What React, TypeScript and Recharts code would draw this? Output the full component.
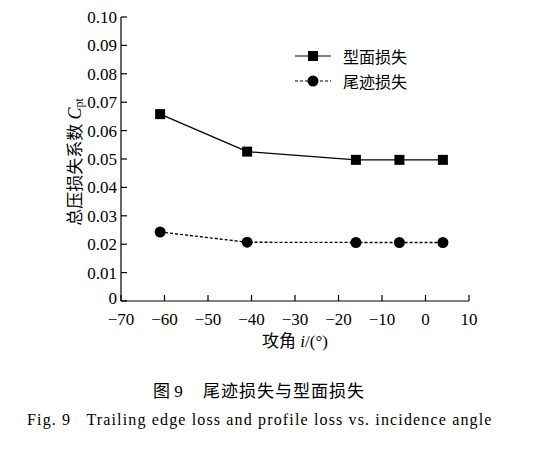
import { LineChart, Line, XAxis, YAxis, Label } from "recharts";

const angles = [-61, -41, -16, -6, 4];
const profileLoss = [0.0658, 0.0526, 0.0497, 0.0497, 0.0497];
const wakeLoss = [0.0243, 0.0207, 0.0206, 0.0206, 0.0206];
const xTicks = [-70, -60, -50, -40, -30, -20, -10, 0, 10];
const yTicks = [0, 0.01, 0.02, 0.03, 0.04, 0.05, 0.06, 0.07, 0.08, 0.09, 0.1];

const data = angles.map((a, i) => ({ angle: a, profile: profileLoss[i], wake: wakeLoss[i] }));

const FONT = '"Times New Roman", "Liberation Serif", serif';
const CJK = '"Times New Roman", "Liberation Serif", "Noto Sans CJK SC", serif';
const Y_MARGIN = 4;
const X_MARGIN = 9;
const TICK_LEN = 6;

const fmtY = (v: number) => (v === 0 ? "0" : v.toFixed(2));
const fmtX = (v: number) => (v < 0 ? "\u2212" + Math.abs(v) : String(v));

const YTick = (props: any) => {
  const { x, y, payload } = props;
  const ax = x + Y_MARGIN;
  return (
    <g>
      <line x1={ax} y1={y} x2={ax + TICK_LEN} y2={y} stroke="#000" strokeWidth={1.2} />
      <text
        x={x}
        y={y}
        dy={payload.value === 0 ? 3 : 6}
        textAnchor="end"
        style={{ fontFamily: FONT, fontSize: 17 }}
        fill="#000"
      >
        {fmtY(payload.value)}
      </text>
    </g>
  );
};

const XTick = (props: any) => {
  const { x, y, payload } = props;
  const ay = y - X_MARGIN;
  return (
    <g>
      <line x1={x} y1={ay} x2={x} y2={ay - TICK_LEN} stroke="#000" strokeWidth={1.2} />
      <text x={x} y={y} dy={15} textAnchor="middle" style={{ fontFamily: FONT, fontSize: 17 }} fill="#000">
        {fmtX(payload.value)}
      </text>
    </g>
  );
};

const SquareDot = (props: any) => {
  const { cx, cy, index } = props;
  return <rect key={`s-${index}`} x={cx - 5} y={cy - 5} width={10} height={10} fill="#000" />;
};

const CircleDot = (props: any) => {
  const { cx, cy, index } = props;
  return <circle key={`c-${index}`} cx={cx} cy={cy} r={5.5} fill="#000" />;
};

const legendItems = [
  { name: "型面损失", dash: undefined as string | undefined, marker: "square" },
  { name: "尾迹损失", dash: "3 2", marker: "circle" },
];

const LegendBox = () => (
  <div style={{ position: "absolute", left: 293, top: 43 }}>
    {legendItems.map((it) => (
      <div key={it.name} style={{ display: "flex", alignItems: "center", height: 25 }}>
        <svg width={40} height={14}>
          <line x1={2} y1={7} x2={38} y2={7} stroke="#000" strokeWidth={1.2} strokeDasharray={it.dash} />
          {it.marker === "square" ? (
            <rect x={15} y={2} width={10} height={10} fill="#000" />
          ) : (
            <circle cx={20} cy={7} r={5.5} fill="#000" />
          )}
        </svg>
        <span style={{ marginLeft: 10, fontFamily: CJK, fontSize: 16, color: "#000" }}>{it.name}</span>
      </div>
    ))}
  </div>
);

const YLabel = (props: any) => {
  const vb = props.viewBox;
  const cx = 75;
  const cy = vb.y + vb.height / 2 + 3;
  return (
    <text
      x={cx}
      y={cy}
      textAnchor="middle"
      transform={`rotate(-90, ${cx}, ${cy})`}
      dominantBaseline="central"
      style={{ fontFamily: CJK, fontSize: 17 }}
      fill="#000"
    >
      总压损失系数{" "}
      <tspan fontStyle="italic" fontSize={18}>C</tspan>
      <tspan fontSize={12} dy={4}>pt</tspan>
    </text>
  );
};

const XLabel = (props: any) => {
  const vb = props.viewBox;
  const cx = vb.x + vb.width / 2;
  return (
    <text x={cx} y={347} textAnchor="middle" style={{ fontFamily: CJK, fontSize: 17 }} fill="#000">
      攻角{" "}
      <tspan fontStyle="italic">i</tspan>
      <tspan>/(°)</tspan>
    </text>
  );
};

export default function App() {
  return (
    <div style={{ position: "absolute", left: 0, top: 0, width: 540, height: 449, background: "#fff" }}>
      <LineChart width={540} height={360} data={data} margin={{ top: 17, right: 71, bottom: 0, left: 0 }}>
        <XAxis
          dataKey="angle"
          type="number"
          domain={[-70, 10]}
          ticks={xTicks}
          interval={0}
          height={59}
          tickSize={0}
          tickMargin={X_MARGIN}
          tick={<XTick />}
          axisLine={{ stroke: "#000", strokeWidth: 1.2 }}
          tickLine={false}
        >
          <Label content={<XLabel />} />
        </XAxis>
        <YAxis
          type="number"
          domain={[0, 0.1]}
          ticks={yTicks}
          interval={0}
          width={121}
          tickSize={0}
          tickMargin={Y_MARGIN}
          tick={<YTick />}
          axisLine={{ stroke: "#000", strokeWidth: 1.2 }}
          tickLine={false}
        >
          <Label content={<YLabel />} />
        </YAxis>
        <Line
          dataKey="profile"
          name="型面损失"
          stroke="#000"
          strokeWidth={1.3}
          dot={<SquareDot />}
          isAnimationActive={false}
        />
        <Line
          dataKey="wake"
          name="尾迹损失"
          stroke="#000"
          strokeWidth={1.3}
          strokeDasharray="3 2"
          dot={<CircleDot />}
          isAnimationActive={false}
        />
      </LineChart>
      <LegendBox />
      <div style={{ position: "absolute", left: 153, top: 377, fontFamily: CJK, fontSize: 17, color: "#000", whiteSpace: "pre" }}>
        图 9
      </div>
      <div style={{ position: "absolute", left: 203, top: 377, fontFamily: CJK, fontSize: 17, color: "#000", letterSpacing: 1, whiteSpace: "pre" }}>
        尾迹损失与型面损失
      </div>
      <div style={{ position: "absolute", left: 27, top: 411, fontFamily: FONT, fontSize: 16, color: "#000", letterSpacing: 1.15, whiteSpace: "pre" }}>
        {"Fig. 9   Trailing edge loss and profile loss vs. incidence angle"}
      </div>
    </div>
  );
}
